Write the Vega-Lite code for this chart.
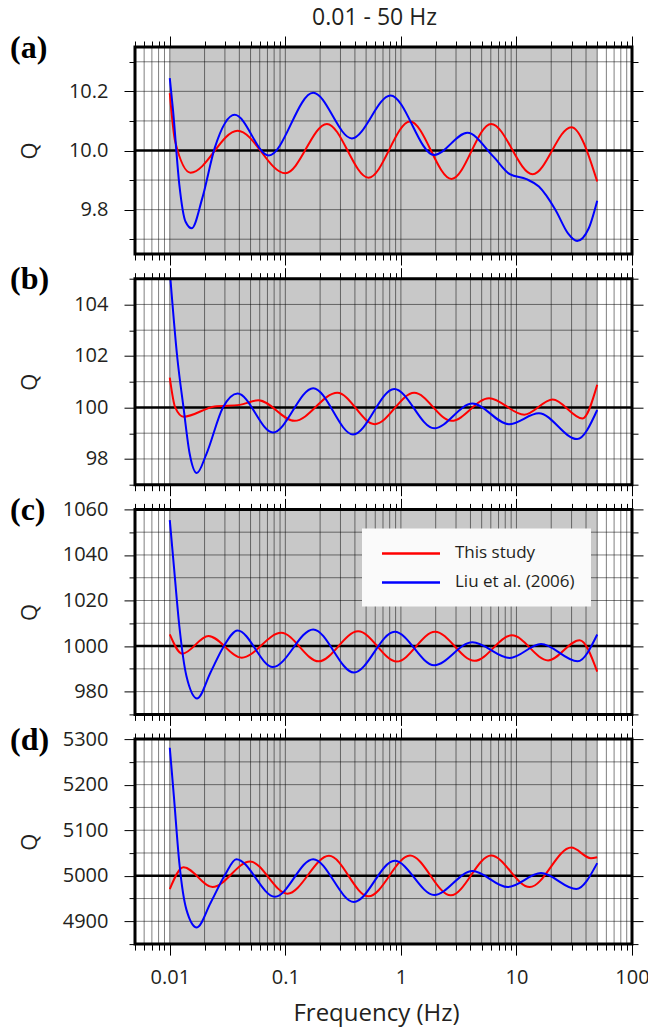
{
  "$schema": "https://vega.github.io/schema/vega-lite/v6.json",
  "background": "white",
  "padding": {"left": 10, "top": 6, "right": 5, "bottom": 5},
  "title": {"text": "0.01 - 50 Hz", "font": "Open Sans", "fontSize": 23, "fontWeight": "normal", "color": "#231f20", "anchor": "middle", "frame": "group", "dx": -9, "offset": 2},
  "bounds": "flush",
  "spacing": 24.7,
  "resolve": {"scale": {"x": "independent", "y": "independent", "color": "independent"}, "legend": {"color": "independent"}},
  "config": {
    "font": "Open Sans",
    "view": {"stroke": null},
    "axis": {"tickColor": "black", "tickWidth": 1, "labelColor": "#231f20", "titleColor": "#231f20", "domain": false, "grid": false, "labelFont": "Open Sans", "titleFont": "Open Sans", "titleFontWeight": "normal", "labelFlush": false, "labelOverlap": false}
  },
  "datasets": {
    "xgrid": [
      {"f": 0.006}, {"f": 0.007}, {"f": 0.008}, {"f": 0.009}, {"f": 0.01},
      {"f": 0.02}, {"f": 0.03}, {"f": 0.04}, {"f": 0.05}, {"f": 0.06}, {"f": 0.07}, {"f": 0.08}, {"f": 0.09}, {"f": 0.1},
      {"f": 0.2}, {"f": 0.3}, {"f": 0.4}, {"f": 0.5}, {"f": 0.6}, {"f": 0.7}, {"f": 0.8}, {"f": 0.9}, {"f": 1},
      {"f": 2}, {"f": 3}, {"f": 4}, {"f": 5}, {"f": 6}, {"f": 7}, {"f": 8}, {"f": 9}, {"f": 10},
      {"f": 20}, {"f": 30}, {"f": 40}, {"f": 50}, {"f": 60}, {"f": 70}, {"f": 80}, {"f": 90}
    ],
    "curves": [
      {"p": "a", "s": "This study", "f": 0.01, "q": 10.194},
      {"p": "a", "s": "This study", "f": 0.01114, "q": 10.03},
      {"p": "a", "s": "This study", "f": 0.01513, "q": 9.925},
      {"p": "a", "s": "This study", "f": 0.0386, "q": 10.067},
      {"p": "a", "s": "This study", "f": 0.1, "q": 9.923},
      {"p": "a", "s": "This study", "f": 0.2289, "q": 10.09},
      {"p": "a", "s": "This study", "f": 0.524, "q": 9.908},
      {"p": "a", "s": "This study", "f": 1.2, "q": 10.098},
      {"p": "a", "s": "This study", "f": 2.747, "q": 9.904},
      {"p": "a", "s": "This study", "f": 6.035, "q": 10.09},
      {"p": "a", "s": "This study", "f": 13.82, "q": 9.92},
      {"p": "a", "s": "This study", "f": 29.84, "q": 10.079},
      {"p": "a", "s": "This study", "f": 50, "q": 9.895},
      {"p": "a", "s": "Liu et al. (2006)", "f": 0.01, "q": 10.245},
      {"p": "a", "s": "Liu et al. (2006)", "f": 0.01069, "q": 10.132},
      {"p": "a", "s": "Liu et al. (2006)", "f": 0.0121, "q": 9.884},
      {"p": "a", "s": "Liu et al. (2006)", "f": 0.0137, "q": 9.759},
      {"p": "a", "s": "Liu et al. (2006)", "f": 0.01551, "q": 9.737},
      {"p": "a", "s": "Liu et al. (2006)", "f": 0.01909, "q": 9.838},
      {"p": "a", "s": "Liu et al. (2006)", "f": 0.02446, "q": 10.008},
      {"p": "a", "s": "Liu et al. (2006)", "f": 0.03641, "q": 10.121},
      {"p": "a", "s": "Liu et al. (2006)", "f": 0.07178, "q": 9.983},
      {"p": "a", "s": "Liu et al. (2006)", "f": 0.1742, "q": 10.195},
      {"p": "a", "s": "Liu et al. (2006)", "f": 0.3763, "q": 10.041},
      {"p": "a", "s": "Liu et al. (2006)", "f": 0.8132, "q": 10.186},
      {"p": "a", "s": "Liu et al. (2006)", "f": 1.94, "q": 9.985},
      {"p": "a", "s": "Liu et al. (2006)", "f": 3.763, "q": 10.06},
      {"p": "a", "s": "Liu et al. (2006)", "f": 6.289, "q": 9.98},
      {"p": "a", "s": "Liu et al. (2006)", "f": 8.759, "q": 9.92},
      {"p": "a", "s": "Liu et al. (2006)", "f": 12.2, "q": 9.903},
      {"p": "a", "s": "Liu et al. (2006)", "f": 15.64, "q": 9.878},
      {"p": "a", "s": "Liu et al. (2006)", "f": 21.78, "q": 9.799},
      {"p": "a", "s": "Liu et al. (2006)", "f": 27.93, "q": 9.72},
      {"p": "a", "s": "Liu et al. (2006)", "f": 33.52, "q": 9.694},
      {"p": "a", "s": "Liu et al. (2006)", "f": 42.25, "q": 9.737},
      {"p": "a", "s": "Liu et al. (2006)", "f": 50, "q": 9.83},

      {"p": "b", "s": "This study", "f": 0.01, "q": 101.16},
      {"p": "b", "s": "This study", "f": 0.01114, "q": 100.0},
      {"p": "b", "s": "This study", "f": 0.01314, "q": 99.64},
      {"p": "b", "s": "This study", "f": 0.02446, "q": 100.04},
      {"p": "b", "s": "This study", "f": 0.04021, "q": 100.1},
      {"p": "b", "s": "This study", "f": 0.05836, "q": 100.28},
      {"p": "b", "s": "This study", "f": 0.12, "q": 99.48},
      {"p": "b", "s": "This study", "f": 0.2817, "q": 100.57},
      {"p": "b", "s": "This study", "f": 0.5935, "q": 99.35},
      {"p": "b", "s": "This study", "f": 1.304, "q": 100.57},
      {"p": "b", "s": "This study", "f": 2.747, "q": 99.48},
      {"p": "b", "s": "This study", "f": 5.789, "q": 100.36},
      {"p": "b", "s": "This study", "f": 11.7, "q": 99.72},
      {"p": "b", "s": "This study", "f": 20.56, "q": 100.31},
      {"p": "b", "s": "This study", "f": 37.33, "q": 99.57},
      {"p": "b", "s": "This study", "f": 50, "q": 100.88},
      {"p": "b", "s": "Liu et al. (2006)", "f": 0.01, "q": 105.3},
      {"p": "b", "s": "Liu et al. (2006)", "f": 0.01161, "q": 101.94},
      {"p": "b", "s": "Liu et al. (2006)", "f": 0.01314, "q": 100.0},
      {"p": "b", "s": "Liu et al. (2006)", "f": 0.01488, "q": 98.19},
      {"p": "b", "s": "Liu et al. (2006)", "f": 0.01713, "q": 97.45},
      {"p": "b", "s": "Liu et al. (2006)", "f": 0.02073, "q": 98.19},
      {"p": "b", "s": "Liu et al. (2006)", "f": 0.02886, "q": 100.0},
      {"p": "b", "s": "Liu et al. (2006)", "f": 0.0386, "q": 100.54},
      {"p": "b", "s": "Liu et al. (2006)", "f": 0.07801, "q": 99.03},
      {"p": "b", "s": "Liu et al. (2006)", "f": 0.1742, "q": 100.75},
      {"p": "b", "s": "Liu et al. (2006)", "f": 0.3857, "q": 98.95},
      {"p": "b", "s": "Liu et al. (2006)", "f": 0.8759, "q": 100.72},
      {"p": "b", "s": "Liu et al. (2006)", "f": 1.94, "q": 99.19},
      {"p": "b", "s": "Liu et al. (2006)", "f": 4.157, "q": 100.15},
      {"p": "b", "s": "Liu et al. (2006)", "f": 8.616, "q": 99.35},
      {"p": "b", "s": "Liu et al. (2006)", "f": 15.64, "q": 99.77},
      {"p": "b", "s": "Liu et al. (2006)", "f": 33.52, "q": 98.77},
      {"p": "b", "s": "Liu et al. (2006)", "f": 50, "q": 99.9},

      {"p": "c", "s": "This study", "f": 0.01, "q": 1005.1},
      {"p": "c", "s": "This study", "f": 0.01282, "q": 996.65},
      {"p": "c", "s": "This study", "f": 0.02161, "q": 1004.4},
      {"p": "c", "s": "This study", "f": 0.04193, "q": 994.9},
      {"p": "c", "s": "This study", "f": 0.09205, "q": 1005.8},
      {"p": "c", "s": "This study", "f": 0.194, "q": 993.3},
      {"p": "c", "s": "This study", "f": 0.4262, "q": 1006.5},
      {"p": "c", "s": "This study", "f": 0.9204, "q": 993.2},
      {"p": "c", "s": "This study", "f": 1.972, "q": 1006.3},
      {"p": "c", "s": "This study", "f": 4.333, "q": 993.5},
      {"p": "c", "s": "This study", "f": 9.13, "q": 1004.7},
      {"p": "c", "s": "This study", "f": 18.77, "q": 993.7},
      {"p": "c", "s": "This study", "f": 35.23, "q": 1002.6},
      {"p": "c", "s": "This study", "f": 50, "q": 988.8},
      {"p": "c", "s": "Liu et al. (2006)", "f": 0.01, "q": 1055.3},
      {"p": "c", "s": "Liu et al. (2006)", "f": 0.01086, "q": 1034.9},
      {"p": "c", "s": "Liu et al. (2006)", "f": 0.0121, "q": 1008.7},
      {"p": "c", "s": "Liu et al. (2006)", "f": 0.01393, "q": 986.9},
      {"p": "c", "s": "Liu et al. (2006)", "f": 0.01727, "q": 977.0},
      {"p": "c", "s": "Liu et al. (2006)", "f": 0.02252, "q": 988.4},
      {"p": "c", "s": "Liu et al. (2006)", "f": 0.02886, "q": 999.3},
      {"p": "c", "s": "Liu et al. (2006)", "f": 0.0386, "q": 1006.8},
      {"p": "c", "s": "Liu et al. (2006)", "f": 0.07801, "q": 990.8},
      {"p": "c", "s": "Liu et al. (2006)", "f": 0.1742, "q": 1007.3},
      {"p": "c", "s": "Liu et al. (2006)", "f": 0.3922, "q": 988.4},
      {"p": "c", "s": "Liu et al. (2006)", "f": 0.8833, "q": 1006.3},
      {"p": "c", "s": "Liu et al. (2006)", "f": 1.94, "q": 991.6},
      {"p": "c", "s": "Liu et al. (2006)", "f": 4.157, "q": 1001.7},
      {"p": "c", "s": "Liu et al. (2006)", "f": 8.759, "q": 994.8},
      {"p": "c", "s": "Liu et al. (2006)", "f": 16.31, "q": 1000.9},
      {"p": "c", "s": "Liu et al. (2006)", "f": 33.8, "q": 993.3},
      {"p": "c", "s": "Liu et al. (2006)", "f": 50, "q": 1005.1},

      {"p": "d", "s": "This study", "f": 0.01, "q": 4970.9},
      {"p": "d", "s": "This study", "f": 0.01314, "q": 5018.9},
      {"p": "d", "s": "This study", "f": 0.02347, "q": 4975.2},
      {"p": "d", "s": "This study", "f": 0.04946, "q": 5031.3},
      {"p": "d", "s": "This study", "f": 0.1042, "q": 4960.7},
      {"p": "d", "s": "This study", "f": 0.2386, "q": 5043.7},
      {"p": "d", "s": "This study", "f": 0.524, "q": 4954.8},
      {"p": "d", "s": "This study", "f": 1.2, "q": 5044.4},
      {"p": "d", "s": "This study", "f": 2.702, "q": 4957.0},
      {"p": "d", "s": "This study", "f": 6.035, "q": 5044.4},
      {"p": "d", "s": "This study", "f": 13.04, "q": 4975.2},
      {"p": "d", "s": "This study", "f": 29.84, "q": 5061.9},
      {"p": "d", "s": "This study", "f": 44.04, "q": 5038.6},
      {"p": "d", "s": "This study", "f": 50, "q": 5040.8},
      {"p": "d", "s": "Liu et al. (2006)", "f": 0.01, "q": 5281.1},
      {"p": "d", "s": "Liu et al. (2006)", "f": 0.01086, "q": 5173.3},
      {"p": "d", "s": "Liu et al. (2006)", "f": 0.0121, "q": 5027.7},
      {"p": "d", "s": "Liu et al. (2006)", "f": 0.01393, "q": 4925.7},
      {"p": "d", "s": "Liu et al. (2006)", "f": 0.01713, "q": 4886.4},
      {"p": "d", "s": "Liu et al. (2006)", "f": 0.02252, "q": 4940.3},
      {"p": "d", "s": "Liu et al. (2006)", "f": 0.03009, "q": 5002.2},
      {"p": "d", "s": "Liu et al. (2006)", "f": 0.03763, "q": 5036.4},
      {"p": "d", "s": "Liu et al. (2006)", "f": 0.08132, "q": 4954.1},
      {"p": "d", "s": "Liu et al. (2006)", "f": 0.1742, "q": 5036.4},
      {"p": "d", "s": "Liu et al. (2006)", "f": 0.3922, "q": 4942.5},
      {"p": "d", "s": "Liu et al. (2006)", "f": 0.8833, "q": 5032.8},
      {"p": "d", "s": "Liu et al. (2006)", "f": 1.94, "q": 4957.8},
      {"p": "d", "s": "Liu et al. (2006)", "f": 4.157, "q": 5010.2},
      {"p": "d", "s": "Liu et al. (2006)", "f": 8.404, "q": 4975.2},
      {"p": "d", "s": "Liu et al. (2006)", "f": 16.31, "q": 5005.8},
      {"p": "d", "s": "Liu et al. (2006)", "f": 32.96, "q": 4970.9},
      {"p": "d", "s": "Liu et al. (2006)", "f": 50, "q": 5027.7}
    ]
  },
  "vconcat": [
    {
      "width": 497, "height": 207,
      "title": {"text": "(a)", "anchor": "start", "frame": "group", "orient": "top", "dx": -125, "dy": 33, "offset": -21, "font": "Liberation Serif", "fontSize": 32, "fontWeight": "bold", "color": "black", "baseline": "alphabetic"},
      "resolve": {"axis": {"x": "independent", "y": "independent"}},
      "layer": [
        {"data": {"values": [{"f0": 0.01, "f1": 50}]}, "mark": {"type": "rect", "color": "#c8c8c8"},
         "encoding": {"x": {"field": "f0", "type": "quantitative", "scale": {"type": "log", "domain": [0.005, 100], "nice": false}, "axis": null}, "x2": {"field": "f1"}}},
        {"data": {"name": "xgrid"}, "mark": {"type": "rule", "color": "black", "opacity": 0.5, "strokeWidth": 1},
         "encoding": {"x": {"field": "f", "type": "quantitative", "scale": {"type": "log", "domain": [0.005, 100], "nice": false},
           "axis": {"orient": "bottom", "values": [0.005,0.006,0.007,0.008,0.009,0.01,0.02,0.03,0.04,0.05,0.06,0.07,0.08,0.09,0.1,0.2,0.3,0.4,0.5,0.6,0.7,0.8,0.9,1,2,3,4,5,6,7,8,9,10,20,30,40,50,60,70,80,90,100],
             "tickSize": {"condition": {"test": "indexof([0.01,0.1,1,10,100], datum.value) >= 0", "value": 11}, "value": 6}, "labels": false, "title": null}}}},
        {"data": {"values": [{"v": 9.7}, {"v": 9.8}, {"v": 9.9}, {"v": 10.1}, {"v": 10.2}, {"v": 10.3}]}, "mark": {"type": "rule", "color": "black", "opacity": 0.5, "strokeWidth": 1},
         "encoding": {"y": {"field": "v", "type": "quantitative", "scale": {"domain": [9.65, 10.35], "nice": false, "zero": false},
           "axis": {"orient": "left", "values": [9.7, 9.8, 9.9, 10, 10.1, 10.2, 10.3],
             "tickSize": {"condition": {"test": "indexof([9.8,10,10.2], datum.value) >= 0", "value": 11}, "value": 6},
             "labelExpr": "indexof([9.8,10,10.2], datum.value) >= 0 ? datum.label : ''", "format": ".1f", "labelFontSize": 20, "labelPadding": 16, "labelBaseline": "middle",
             "title": "Q", "titleX": -106, "titleY": 103.5, "titleAngle": -90, "titleBaseline": "middle", "titleAlign": "center", "titleFontSize": 22}}}},
        {"data": {"values": [{"v": 10}]}, "mark": {"type": "rule", "color": "black", "strokeWidth": 2.5},
         "encoding": {"y": {"field": "v", "type": "quantitative", "scale": {"domain": [9.65, 10.35], "nice": false, "zero": false},
           "axis": {"orient": "right", "values": [9.7, 9.8, 9.9, 10, 10.1, 10.2, 10.3],
             "tickSize": {"condition": {"test": "indexof([9.8,10,10.2], datum.value) >= 0", "value": 11}, "value": 6}, "labels": false, "title": null}}}},
        {"data": {"name": "curves"}, "transform": [{"filter": "datum.p == 'a'"}], "mark": {"type": "line", "strokeWidth": 2, "interpolate": "monotone", "clip": true},
         "encoding": {
           "x": {"field": "f", "type": "quantitative", "scale": {"type": "log", "domain": [0.005, 100], "nice": false},
             "axis": {"orient": "top", "values": [0.005,0.006,0.007,0.008,0.009,0.01,0.02,0.03,0.04,0.05,0.06,0.07,0.08,0.09,0.1,0.2,0.3,0.4,0.5,0.6,0.7,0.8,0.9,1,2,3,4,5,6,7,8,9,10,20,30,40,50,60,70,80,90,100],
               "tickSize": {"condition": {"test": "indexof([0.01,0.1,1,10,100], datum.value) >= 0", "value": 11}, "value": 6}, "labels": false, "title": null}},
           "y": {"field": "q", "type": "quantitative", "scale": {"domain": [9.65, 10.35], "nice": false, "zero": false}, "axis": null},
           "color": {"field": "s", "type": "nominal", "scale": {"domain": ["This study", "Liu et al. (2006)"], "range": ["#ff0000", "#0000ff"]}, "legend": null}}},
        {"data": {"values": [{"k": 1}]}, "mark": {"type": "rect", "filled": false, "color": "black", "strokeWidth": 3}, "encoding": {}}
      ]
    },
    {
      "width": 497, "height": 206,
      "title": {"text": "(b)", "anchor": "start", "frame": "group", "orient": "top", "dx": -125, "dy": 33, "offset": -21, "font": "Liberation Serif", "fontSize": 32, "fontWeight": "bold", "color": "black", "baseline": "alphabetic"},
      "resolve": {"axis": {"x": "independent", "y": "independent"}},
      "layer": [
        {"data": {"values": [{"f0": 0.01, "f1": 50}]}, "mark": {"type": "rect", "color": "#c8c8c8"},
         "encoding": {"x": {"field": "f0", "type": "quantitative", "scale": {"type": "log", "domain": [0.005, 100], "nice": false}, "axis": null}, "x2": {"field": "f1"}}},
        {"data": {"name": "xgrid"}, "mark": {"type": "rule", "color": "black", "opacity": 0.5, "strokeWidth": 1},
         "encoding": {"x": {"field": "f", "type": "quantitative", "scale": {"type": "log", "domain": [0.005, 100], "nice": false},
           "axis": {"orient": "bottom", "values": [0.005,0.006,0.007,0.008,0.009,0.01,0.02,0.03,0.04,0.05,0.06,0.07,0.08,0.09,0.1,0.2,0.3,0.4,0.5,0.6,0.7,0.8,0.9,1,2,3,4,5,6,7,8,9,10,20,30,40,50,60,70,80,90,100],
             "tickSize": {"condition": {"test": "indexof([0.01,0.1,1,10,100], datum.value) >= 0", "value": 11}, "value": 6}, "labels": false, "title": null}}}},
        {"data": {"values": [{"v": 98}, {"v": 99}, {"v": 101}, {"v": 102}, {"v": 103}, {"v": 104}]}, "mark": {"type": "rule", "color": "black", "opacity": 0.5, "strokeWidth": 1},
         "encoding": {"y": {"field": "v", "type": "quantitative", "scale": {"domain": [97, 105], "nice": false, "zero": false},
           "axis": {"orient": "left", "values": [97, 98, 99, 100, 101, 102, 103, 104, 105],
             "tickSize": {"condition": {"test": "indexof([98,100,102,104], datum.value) >= 0", "value": 11}, "value": 6},
             "labelExpr": "indexof([98,100,102,104], datum.value) >= 0 ? datum.label : ''", "format": "d", "labelFontSize": 20, "labelPadding": 16, "labelBaseline": "middle",
             "title": "Q", "titleX": -106, "titleY": 103, "titleAngle": -90, "titleBaseline": "middle", "titleAlign": "center", "titleFontSize": 22}}}},
        {"data": {"values": [{"v": 100}]}, "mark": {"type": "rule", "color": "black", "strokeWidth": 2.5},
         "encoding": {"y": {"field": "v", "type": "quantitative", "scale": {"domain": [97, 105], "nice": false, "zero": false},
           "axis": {"orient": "right", "values": [97, 98, 99, 100, 101, 102, 103, 104, 105],
             "tickSize": {"condition": {"test": "indexof([98,100,102,104], datum.value) >= 0", "value": 11}, "value": 6}, "labels": false, "title": null}}}},
        {"data": {"name": "curves"}, "transform": [{"filter": "datum.p == 'b'"}], "mark": {"type": "line", "strokeWidth": 2, "interpolate": "monotone", "clip": true},
         "encoding": {
           "x": {"field": "f", "type": "quantitative", "scale": {"type": "log", "domain": [0.005, 100], "nice": false},
             "axis": {"orient": "top", "values": [0.005,0.006,0.007,0.008,0.009,0.01,0.02,0.03,0.04,0.05,0.06,0.07,0.08,0.09,0.1,0.2,0.3,0.4,0.5,0.6,0.7,0.8,0.9,1,2,3,4,5,6,7,8,9,10,20,30,40,50,60,70,80,90,100],
               "tickSize": {"condition": {"test": "indexof([0.01,0.1,1,10,100], datum.value) >= 0", "value": 11}, "value": 6}, "labels": false, "title": null}},
           "y": {"field": "q", "type": "quantitative", "scale": {"domain": [97, 105], "nice": false, "zero": false}, "axis": null},
           "color": {"field": "s", "type": "nominal", "scale": {"domain": ["This study", "Liu et al. (2006)"], "range": ["#ff0000", "#0000ff"]}, "legend": null}}},
        {"data": {"values": [{"k": 1}]}, "mark": {"type": "rect", "filled": false, "color": "black", "strokeWidth": 3}, "encoding": {}}
      ]
    },
    {
      "width": 497, "height": 205,
      "title": {"text": "(c)", "anchor": "start", "frame": "group", "orient": "top", "dx": -125, "dy": 33, "offset": -21, "font": "Liberation Serif", "fontSize": 32, "fontWeight": "bold", "color": "black", "baseline": "alphabetic"},
      "resolve": {"axis": {"x": "independent", "y": "independent"}},
      "layer": [
        {"data": {"values": [{"f0": 0.01, "f1": 50}]}, "mark": {"type": "rect", "color": "#c8c8c8"},
         "encoding": {"x": {"field": "f0", "type": "quantitative", "scale": {"type": "log", "domain": [0.005, 100], "nice": false}, "axis": null}, "x2": {"field": "f1"}}},
        {"data": {"name": "xgrid"}, "mark": {"type": "rule", "color": "black", "opacity": 0.5, "strokeWidth": 1},
         "encoding": {"x": {"field": "f", "type": "quantitative", "scale": {"type": "log", "domain": [0.005, 100], "nice": false},
           "axis": {"orient": "bottom", "values": [0.005,0.006,0.007,0.008,0.009,0.01,0.02,0.03,0.04,0.05,0.06,0.07,0.08,0.09,0.1,0.2,0.3,0.4,0.5,0.6,0.7,0.8,0.9,1,2,3,4,5,6,7,8,9,10,20,30,40,50,60,70,80,90,100],
             "tickSize": {"condition": {"test": "indexof([0.01,0.1,1,10,100], datum.value) >= 0", "value": 11}, "value": 6}, "labels": false, "title": null}}}},
        {"data": {"values": [{"v": 980}, {"v": 990}, {"v": 1010}, {"v": 1020}, {"v": 1030}, {"v": 1040}, {"v": 1050}]}, "mark": {"type": "rule", "color": "black", "opacity": 0.5, "strokeWidth": 1},
         "encoding": {"y": {"field": "v", "type": "quantitative", "scale": {"domain": [970, 1060], "nice": false, "zero": false},
           "axis": {"orient": "left", "values": [970, 980, 990, 1000, 1010, 1020, 1030, 1040, 1050, 1060],
             "tickSize": {"condition": {"test": "indexof([980,1000,1020,1040,1060], datum.value) >= 0", "value": 11}, "value": 6},
             "labelExpr": "indexof([980,1000,1020,1040,1060], datum.value) >= 0 ? datum.label : ''", "format": "d", "labelFontSize": 20, "labelPadding": 16, "labelBaseline": "middle",
             "title": "Q", "titleX": -106, "titleY": 102.5, "titleAngle": -90, "titleBaseline": "middle", "titleAlign": "center", "titleFontSize": 22}}}},
        {"data": {"values": [{"v": 1000}]}, "mark": {"type": "rule", "color": "black", "strokeWidth": 2.5},
         "encoding": {"y": {"field": "v", "type": "quantitative", "scale": {"domain": [970, 1060], "nice": false, "zero": false},
           "axis": {"orient": "right", "values": [970, 980, 990, 1000, 1010, 1020, 1030, 1040, 1050, 1060],
             "tickSize": {"condition": {"test": "indexof([980,1000,1020,1040,1060], datum.value) >= 0", "value": 11}, "value": 6}, "labels": false, "title": null}}}},
        {"data": {"name": "curves"}, "transform": [{"filter": "datum.p == 'c'"}], "mark": {"type": "line", "strokeWidth": 2, "interpolate": "monotone", "clip": true},
         "encoding": {
           "x": {"field": "f", "type": "quantitative", "scale": {"type": "log", "domain": [0.005, 100], "nice": false},
             "axis": {"orient": "top", "values": [0.005,0.006,0.007,0.008,0.009,0.01,0.02,0.03,0.04,0.05,0.06,0.07,0.08,0.09,0.1,0.2,0.3,0.4,0.5,0.6,0.7,0.8,0.9,1,2,3,4,5,6,7,8,9,10,20,30,40,50,60,70,80,90,100],
               "tickSize": {"condition": {"test": "indexof([0.01,0.1,1,10,100], datum.value) >= 0", "value": 11}, "value": 6}, "labels": false, "title": null}},
           "y": {"field": "q", "type": "quantitative", "scale": {"domain": [970, 1060], "nice": false, "zero": false}, "axis": null},
           "color": {"field": "s", "type": "nominal", "scale": {"domain": ["This study", "Liu et al. (2006)"], "range": ["#ff0000", "#0000ff"]},
             "legend": {"orient": "none", "legendX": 227, "legendY": 19, "title": null, "fillColor": "#fafafa", "padding": 16,
               "symbolType": "M-3.867,0H3.867", "symbolSize": 225, "symbolStrokeWidth": 2.5, "symbolOffset": 24, "labelOffset": 35,
               "rowPadding": 12, "labelFontSize": 17, "labelFont": "Open Sans", "labelColor": "#231f20"}}}},
        {"data": {"values": [{"k": 1}]}, "mark": {"type": "rect", "filled": false, "color": "black", "strokeWidth": 3}, "encoding": {}}
      ]
    },
    {
      "width": 497, "height": 205,
      "title": {"text": "(d)", "anchor": "start", "frame": "group", "orient": "top", "dx": -125, "dy": 33, "offset": -21, "font": "Liberation Serif", "fontSize": 32, "fontWeight": "bold", "color": "black", "baseline": "alphabetic"},
      "resolve": {"axis": {"x": "independent", "y": "independent"}},
      "layer": [
        {"data": {"values": [{"f0": 0.01, "f1": 50}]}, "mark": {"type": "rect", "color": "#c8c8c8"},
         "encoding": {"x": {"field": "f0", "type": "quantitative", "scale": {"type": "log", "domain": [0.005, 100], "nice": false}, "axis": null}, "x2": {"field": "f1"}}},
        {"data": {"name": "xgrid"}, "mark": {"type": "rule", "color": "black", "opacity": 0.5, "strokeWidth": 1},
         "encoding": {"x": {"field": "f", "type": "quantitative", "scale": {"type": "log", "domain": [0.005, 100], "nice": false},
           "axis": {"orient": "bottom", "values": [0.005,0.006,0.007,0.008,0.009,0.01,0.02,0.03,0.04,0.05,0.06,0.07,0.08,0.09,0.1,0.2,0.3,0.4,0.5,0.6,0.7,0.8,0.9,1,2,3,4,5,6,7,8,9,10,20,30,40,50,60,70,80,90,100],
             "tickSize": {"condition": {"test": "indexof([0.01,0.1,1,10,100], datum.value) >= 0", "value": 11}, "value": 6},
             "labelExpr": "indexof([0.01,0.1,1,10,100], datum.value) >= 0 ? datum.label : ''", "format": "~g", "labelFontSize": 20, "labelPadding": 12,
             "title": "Frequency (Hz)", "titleFontSize": 24, "titlePadding": 14, "titleX": 241}}}},
        {"data": {"values": [{"v": 4900}, {"v": 4950}, {"v": 5050}, {"v": 5100}, {"v": 5150}, {"v": 5200}, {"v": 5250}]}, "mark": {"type": "rule", "color": "black", "opacity": 0.5, "strokeWidth": 1},
         "encoding": {"y": {"field": "v", "type": "quantitative", "scale": {"domain": [4850, 5300], "nice": false, "zero": false},
           "axis": {"orient": "left", "values": [4850, 4900, 4950, 5000, 5050, 5100, 5150, 5200, 5250, 5300],
             "tickSize": {"condition": {"test": "indexof([4900,5000,5100,5200,5300], datum.value) >= 0", "value": 11}, "value": 6},
             "labelExpr": "indexof([4900,5000,5100,5200,5300], datum.value) >= 0 ? datum.label : ''", "format": "d", "labelFontSize": 20, "labelPadding": 16, "labelBaseline": "middle",
             "title": "Q", "titleX": -106, "titleY": 102.5, "titleAngle": -90, "titleBaseline": "middle", "titleAlign": "center", "titleFontSize": 22}}}},
        {"data": {"values": [{"v": 5000}]}, "mark": {"type": "rule", "color": "black", "strokeWidth": 2.5},
         "encoding": {"y": {"field": "v", "type": "quantitative", "scale": {"domain": [4850, 5300], "nice": false, "zero": false},
           "axis": {"orient": "right", "values": [4850, 4900, 4950, 5000, 5050, 5100, 5150, 5200, 5250, 5300],
             "tickSize": {"condition": {"test": "indexof([4900,5000,5100,5200,5300], datum.value) >= 0", "value": 11}, "value": 6}, "labels": false, "title": null}}}},
        {"data": {"name": "curves"}, "transform": [{"filter": "datum.p == 'd'"}], "mark": {"type": "line", "strokeWidth": 2, "interpolate": "monotone", "clip": true},
         "encoding": {
           "x": {"field": "f", "type": "quantitative", "scale": {"type": "log", "domain": [0.005, 100], "nice": false},
             "axis": {"orient": "top", "values": [0.005,0.006,0.007,0.008,0.009,0.01,0.02,0.03,0.04,0.05,0.06,0.07,0.08,0.09,0.1,0.2,0.3,0.4,0.5,0.6,0.7,0.8,0.9,1,2,3,4,5,6,7,8,9,10,20,30,40,50,60,70,80,90,100],
               "tickSize": {"condition": {"test": "indexof([0.01,0.1,1,10,100], datum.value) >= 0", "value": 11}, "value": 6}, "labels": false, "title": null}},
           "y": {"field": "q", "type": "quantitative", "scale": {"domain": [4850, 5300], "nice": false, "zero": false}, "axis": null},
           "color": {"field": "s", "type": "nominal", "scale": {"domain": ["This study", "Liu et al. (2006)"], "range": ["#ff0000", "#0000ff"]}, "legend": null}}},
        {"data": {"values": [{"k": 1}]}, "mark": {"type": "rect", "filled": false, "color": "black", "strokeWidth": 3}, "encoding": {}}
      ]
    }
  ]
}
